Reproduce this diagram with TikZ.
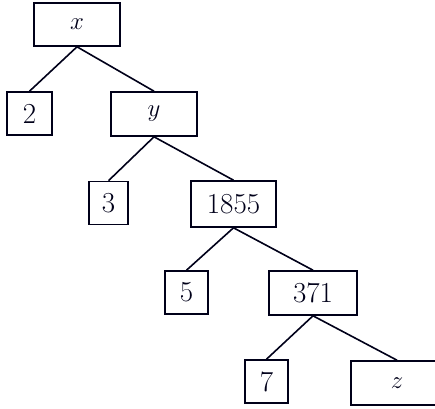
\documentclass[tikz,border=0pt]{standalone}
\usepackage{tikz}
\begin{document}
\begin{tikzpicture}[x=1pt,y=-1pt,
  bx/.style={draw=black!90!blue, line width=1.6pt, inner sep=0pt, font=\fontsize{29}{32}\selectfont, text=black!90!blue},
  edge/.style={draw=black!90!blue, line width=1.6pt}]
\useasboundingbox (0,0) rectangle (435,408);
\clip (0,0) rectangle (435,408);
\node[bx, minimum width=86pt, minimum height=43pt] (nx) at (77,24.5) {$x$};
\node[bx, minimum width=45pt, minimum height=43pt] (n2) at (29.5,113.5) {2};
\node[bx, minimum width=86pt, minimum height=44pt] (ny) at (154,114) {$y$};
\node[bx, minimum width=39pt, minimum height=43pt] (n3) at (108.5,203) {3};
\node[bx, minimum width=85pt, minimum height=46pt] (n1855) at (233.5,204) {1855};
\node[bx, minimum width=43pt, minimum height=43pt] (n5) at (186.5,292.5) {5};
\node[bx, minimum width=88pt, minimum height=44pt] (n371) at (313,293) {371};
\node[bx, minimum width=43pt, minimum height=43pt] (n7) at (266.5,381.5) {7};
\node[bx, minimum width=92pt, minimum height=44pt] (nz) at (397,383) {$z$};
\draw[edge] (nx.south) -- (n2.north);
\draw[edge] (nx.south) -- (ny.north);
\draw[edge] (ny.south) -- (n3.north);
\draw[edge] (ny.south) -- (n1855.north);
\draw[edge] (n1855.south) -- (n5.north);
\draw[edge] (n1855.south) -- (n371.north);
\draw[edge] (n371.south) -- (n7.north);
\draw[edge] (n371.south) -- (nz.north);
\end{tikzpicture}
\end{document}
